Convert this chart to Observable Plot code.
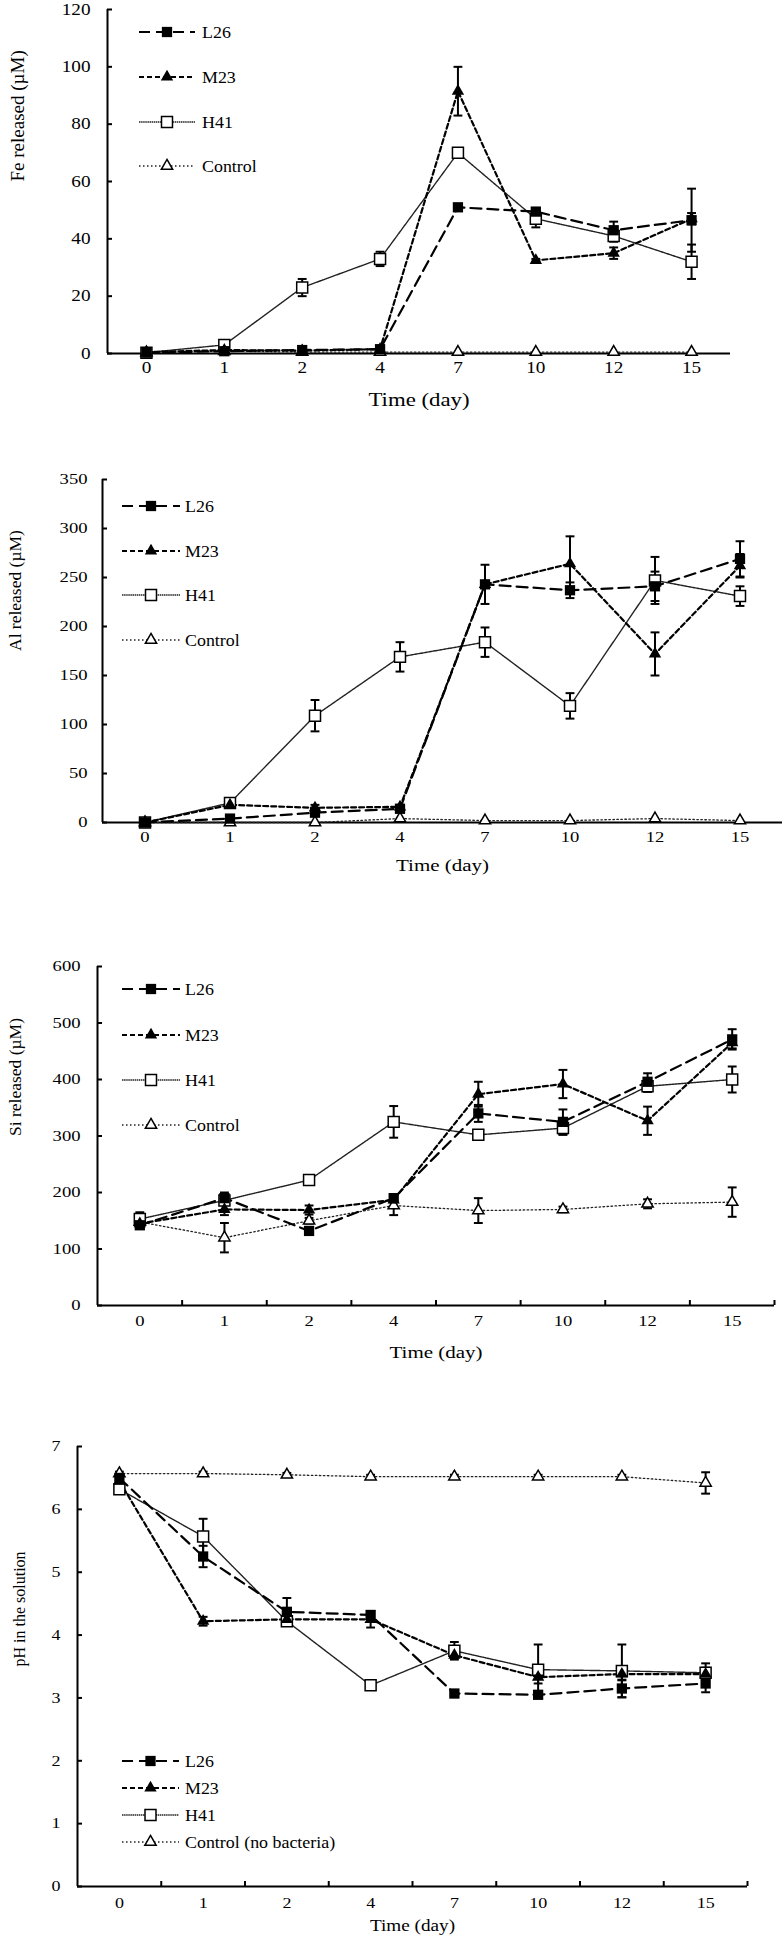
<!DOCTYPE html>
<html><head><meta charset="utf-8">
<script src="https://cdn.jsdelivr.net/npm/d3@7"></script>
<script src="https://cdn.jsdelivr.net/npm/@observablehq/plot@0.6"></script>
<style>
body{margin:0;background:#fff;}
#wrap{position:relative;width:784px;height:1942px;overflow:hidden;}
.panel{position:absolute;left:0;}
.panel text{font-family:'Liberation Serif','Times New Roman',serif;}
</style></head><body><div id="wrap"></div>
<script>
// ---- categories ----
const days = ["0","1","2","4","7","10","12","15"];
const seriesNames = ["L26","M23","H41","Control"];
const phLegendNames = ["L26","M23","H41","Control (no bacteria)"];

// ---- Fe released (µM) ----
const feL26 = [0.3, 0.8, 1.2, 1.5, 51, 49.5, 43, 46.5];
const feL26Err = [0, 0, 0, 0, 0.5, 1, 3, 11];
const feM23 = [0.5, 1.2, 1, 1.5, 91.5, 32.5, 35, 47];
const feM23Err = [0, 0, 0, 0, 8.5, 0.5, 2, 2];
const feH41 = [0.3, 3, 23, 33, 70, 47, 41, 32];
const feH41Err = [0, 0.5, 3, 2.5, 1.5, 3, 2, 6];
const feCtl = [0.3, 0.8, 0.5, 0.5, 0.5, 0.5, 0.5, 0.5];
const feCtlErr = [0, 0, 0, 0, 0, 0, 0, 0];

// ---- Al released (µM) ----
const alL26 = [0, 4, 10, 14, 243, 237, 241, 269];
const alL26Err = [0, 0, 0, 3, 20, 8, 15, 18];
const alM23 = [0, 18, 15, 16, 243, 264, 172, 262];
const alM23Err = [0, 2, 3, 2, 0, 28, 22, 12];
const alH41 = [0, 20, 109, 169, 184, 119, 247, 231];
const alH41Err = [0, 2, 16, 15, 15, 13, 24, 10];
const alCtl = [0, 0, 0, 4, 2, 2, 4, 2];
const alCtlErr = [0, 0, 0, 0, 0, 0, 0, 0];

// ---- Si released (µM) ----
const siL26 = [142, 190, 132, 190, 340, 325, 396, 471];
const siL26Err = [5, 10, 5, 3, 15, 22, 15, 18];
const siM23 = [145, 170, 169, 187, 374, 392, 327, 465];
const siM23Err = [3, 10, 8, 3, 22, 25, 25, 10];
const siH41 = [153, 186, 222, 325, 302, 314, 388, 400];
const siH41Err = [12, 5, 5, 28, 8, 12, 10, 23];
const siCtl = [148, 120, 150, 177, 168, 170, 180, 183];
const siCtlErr = [5, 26, 5, 17, 22, 5, 8, 26];

// ---- pH in the solution ----
const phL26 = [6.5, 5.25, 4.37, 4.32, 3.07, 3.05, 3.15, 3.23];
const phL26Err = [0.05, 0.17, 0.22, 0.06, 0.03, 0.05, 0.14, 0.14];
const phM23 = [6.45, 4.22, 4.25, 4.25, 3.68, 3.33, 3.38, 3.38];
const phM23Err = [0.03, 0.07, 0.05, 0.13, 0.05, 0.1, 0.1, 0.1];
const phH41 = [6.32, 5.57, 4.22, 3.2, 3.75, 3.45, 3.43, 3.4];
const phH41Err = [0.03, 0.28, 0.05, 0.05, 0.14, 0.4, 0.42, 0.15];
const phCtl = [6.57, 6.57, 6.55, 6.52, 6.52, 6.52, 6.52, 6.42];
const phCtlErr = [0.03, 0.03, 0.03, 0.03, 0.03, 0.03, 0.03, 0.17];

// ---- tick labels ----
const feTicks = [0, 20, 40, 60, 80, 100, 120];
const alTicks = [0, 50, 100, 150, 200, 250, 300, 350];
const siTicks = [0, 100, 200, 300, 400, 500, 600];
const phTicks = [0, 1, 2, 3, 4, 5, 6, 7];

// ---- styles per series ----
const styles = {
  L26: {stroke: "#000", width: 2.2, dash: "11,6", symbol: "square", r: 5.8, fill: "#000", sw: 0},
  M23: {stroke: "#000", width: 2.2, dash: "5,3", symbol: "triangle", r: 4.6, fill: "#000", sw: 0},
  H41: {stroke: "#222", width: 1.4, dash: "1.5,0.6", symbol: "square", r: 6.2, fill: "#fff", sw: 1.5},
  Control: {stroke: "#222", width: 1.3, dash: "1.5,2.5", symbol: "triangle", r: 4.2, fill: "#fff", sw: 1.5}
};
const d3sym = {square: d3.symbolSquare, triangle: d3.symbolTriangle};
const cap = {draw(ctx, size) { const w = Math.sqrt(size) / 2; ctx.moveTo(-w, 0); ctx.lineTo(w, 0); }};
const FONT = "'Liberation Serif', 'Times New Roman', serif";

const panels = [
  {top: 0, height: 420, ml: 107, mr: 54, mt: 9, mb: 67, domain: [0, 120], ticks: feTicks,
   ylabel: "Fe released (µM)", ylDx: -90, ylSize: 19, xlDy: 52, xlSize: 19, tickFont: 16, xPad: 8, yPad: 22,
   bticks: false, legendNames: seriesNames, lx: [139, 195, 202], ly: [32, 77, 122, 166], lFont: 16,
   vals: [feL26, feM23, feH41, feCtl], errs: [feL26Err, feM23Err, feH41Err, feCtlErr]},
  {top: 420, height: 460, ml: 102, mr: 2, mt: 59, mb: 58, domain: [0, 350], ticks: alTicks,
   ylabel: "Al released (µM)", ylDx: -87, ylSize: 17.5, xlDy: 48, xlSize: 17.5, tickFont: 15.5, xPad: 8, yPad: 20,
   bticks: false, legendNames: seriesNames, lx: [122, 180, 185], ly: [86, 131, 175, 220], lFont: 16,
   vals: [alL26, alM23, alH41, alCtl], errs: [alL26Err, alM23Err, alH41Err, alCtlErr]},
  {top: 880, height: 500, ml: 97, mr: 10, mt: 86, mb: 75, domain: [0, 600], ticks: siTicks,
   ylabel: "Si released (µM)", ylDx: -82, ylSize: 17.5, xlDy: 52, xlSize: 17.5, tickFont: 15.5, xPad: 9, yPad: 22,
   bticks: true, legendNames: seriesNames, lx: [122, 180, 185], ly: [109, 155, 200, 245], lFont: 16,
   vals: [siL26, siM23, siH41, siCtl], errs: [siL26Err, siM23Err, siH41Err, siCtlErr]},
  {top: 1380, height: 562, ml: 77, mr: 37, mt: 66, mb: 56, domain: [0, 7], ticks: phTicks,
   ylabel: "pH in the solution", ylDx: -58, ylSize: 16, xlDy: 44, xlSize: 16, tickFont: 15, xPad: 11, yPad: 22,
   bticks: true, legendNames: phLegendNames, lx: [122, 179, 185], ly: [381, 408, 435, 462], lFont: 16,
   vals: [phL26, phM23, phH41, phCtl], errs: [phL26Err, phM23Err, phH41Err, phCtlErr]}
];
const SX = 1.2;   // horizontal stretch of the reference's lettering
const LSX = 1.12; // legend lettering stretch

const wrap = document.getElementById("wrap");
const idx = days.map((d, i) => i);
const bounds = days.map((d, i) => i + 0.5);

for (const p of panels) {
  const rows = [];
  seriesNames.forEach((s, si) => {
    days.forEach((d, i) => rows.push({series: s, x: i, y: p.vals[si][i], err: p.errs[si][i]}));
  });
  const order = ["Control", "H41", "M23", "L26"];
  const marks = [];
  marks.push(Plot.ruleY([p.domain[0]], {x1: -0.5, x2: 7.5, stroke: "#000", strokeWidth: 2}));
  marks.push(Plot.ruleX([-0.5], {y1: p.domain[0], y2: p.domain[1], stroke: "#000", strokeWidth: 2}));
  marks.push(Plot.axisY({ticks: p.ticks, tickSize: -5, tickPadding: p.yPad, strokeWidth: 2, fontSize: p.tickFont, fontFamily: FONT, label: null, tickFormat: d => String(d)}));
  marks.push(Plot.axisX({ticks: idx, tickSize: 0, tickPadding: p.xPad, fontSize: p.tickFont, fontFamily: FONT, label: null, tickFormat: i => days[i]}));
  if (p.bticks) marks.push(Plot.axisX({ticks: bounds, tickSize: -5, strokeWidth: 2, tickFormat: () => "", label: null}));
  for (const s of order) {
    const st = styles[s];
    marks.push(Plot.line(rows.filter(d => d.series === s), {x: "x", y: "y", stroke: st.stroke, strokeWidth: st.width, strokeDasharray: st.dash}));
  }
  const er = rows.filter(d => d.err > 0);
  marks.push(Plot.ruleX(er, {x: "x", y1: d => d.y - d.err, y2: d => d.y + d.err, stroke: "#000", strokeWidth: 2}));
  marks.push(Plot.dot(er, {x: "x", y: d => d.y + d.err, symbol: cap, r: 5, stroke: "#000", strokeWidth: 2, fill: "none"}));
  marks.push(Plot.dot(er, {x: "x", y: d => d.y - d.err, symbol: cap, r: 5, stroke: "#000", strokeWidth: 2, fill: "none"}));
  for (const s of order) {
    const st = styles[s];
    marks.push(Plot.dot(rows.filter(d => d.series === s), {x: "x", y: "y", symbol: st.symbol, r: st.r, fill: st.fill, stroke: st.sw ? "#000" : "none", strokeWidth: st.sw}));
  }
  marks.push(Plot.text([p.ylabel], {frameAnchor: "left", dx: p.ylDx, rotate: -90, fontSize: p.ylSize, fontFamily: FONT, fill: "#000"}));
  marks.push(Plot.text(["Time (day)"], {frameAnchor: "bottom", dy: p.xlDy, fontSize: p.xlSize, fontFamily: FONT, fill: "#000"}));

  const chart = Plot.plot({
    width: 784, height: p.height,
    marginLeft: p.ml, marginRight: p.mr, marginTop: p.mt, marginBottom: p.mb,
    x: {type: "linear", domain: [-0.5, 7.5], axis: null},
    y: {domain: p.domain, axis: null},
    style: {fontFamily: FONT, color: "#000", background: "transparent", overflow: "visible"},
    marks
  });
  chart.classList.add("panel");
  chart.style.top = p.top + "px";
  wrap.appendChild(chart);

  // stretch horizontal lettering like the reference
  d3.select(chart).selectAll("text").each(function() {
    const t = this.getAttribute("transform") || "";
    if (!t.includes("rotate") && !this.hasAttribute("x")) this.setAttribute("transform", t + ` scale(${SX},1)`);
  });

  const g = d3.select(chart).append("g").attr("font-family", FONT).attr("font-size", p.lFont).attr("text-anchor", "start");
  seriesNames.forEach((s, i) => {
    const st = styles[s];
    const y = p.ly[i];
    g.append("line").attr("x1", p.lx[0]).attr("x2", p.lx[1]).attr("y1", y).attr("y2", y)
      .attr("stroke", st.stroke).attr("stroke-width", st.width).attr("stroke-dasharray", st.dash);
    g.append("path").attr("transform", `translate(${(p.lx[0] + p.lx[1]) / 2},${y})`)
      .attr("d", d3.symbol(d3sym[st.symbol], Math.PI * st.r * st.r)())
      .attr("fill", st.fill).attr("stroke", st.sw ? "#000" : "none").attr("stroke-width", st.sw);
    g.append("text").attr("transform", `translate(${p.lx[2]},${y}) scale(${LSX},1)`).attr("dy", "0.35em")
      .attr("text-anchor", "start").attr("fill", "#000").text(p.legendNames[i]);
  });
}
</script></body></html>
